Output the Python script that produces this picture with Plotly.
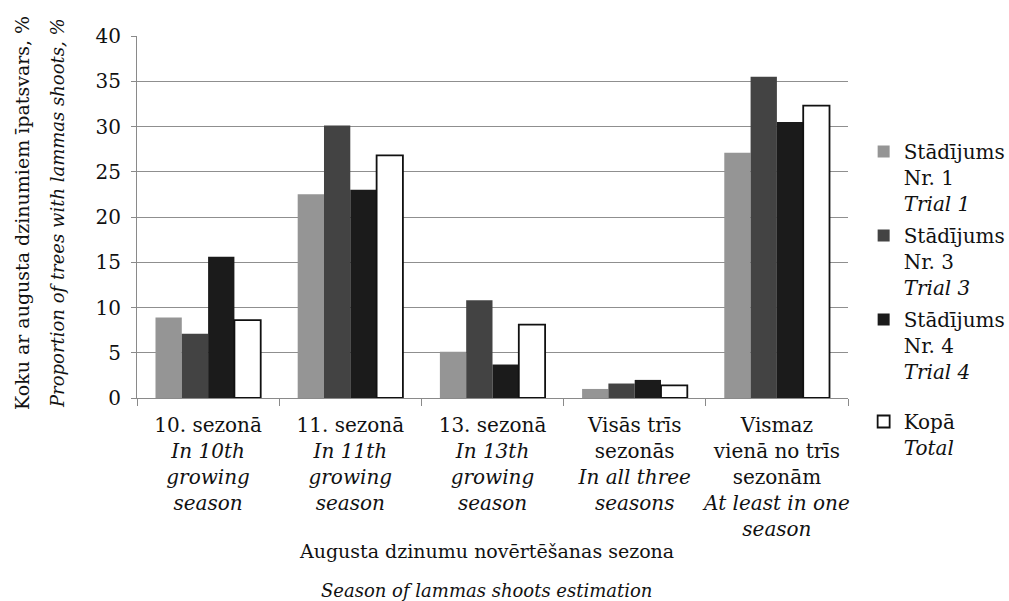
import plotly.graph_objects as go

categories = [
    "10. sezonā<br><i>In 10th</i><br><i>growing</i><br><i>season</i>",
    "11. sezonā<br><i>In 11th</i><br><i>growing</i><br><i>season</i>",
    "13. sezonā<br><i>In 13th</i><br><i>growing</i><br><i>season</i>",
    "Visās trīs<br>sezonās<br><i>In all three</i><br><i>seasons</i>",
    "Vismaz<br>vienā no trīs<br>sezonām<br><i>At least in one</i><br><i>season</i>",
]
series_names = [
    "Stādījums<br>Nr. 1<br><i>Trial 1</i>",
    "Stādījums<br>Nr. 3<br><i>Trial 3</i>",
    "Stādījums<br>Nr. 4<br><i>Trial 4</i>",
    "Kopā<br><i>Total</i>",
]
trial1 = [8.9, 22.5, 5.1, 1.0, 27.1]
trial3 = [7.1, 30.1, 10.8, 1.6, 35.5]
trial4 = [15.6, 23.0, 3.7, 2.0, 30.5]
total = [8.6, 26.8, 8.1, 1.4, 32.3]
y_ticks = [0, 5, 10, 15, 20, 25, 30, 35, 40]

FONT = "DejaVu Serif, Liberation Serif, serif"
FS = 20
TXT = "#111111"
values = [trial1, trial3, trial4, total]
colors = ["#959595", "#434343", "#1b1b1b", "#ffffff"]
line_w = [0, 0, 0, 1.8]
legends = ["legend", "legend", "legend", "legend2"]

fig = go.Figure()
for name, vals, c, lw, lg in zip(series_names, values, colors, line_w, legends):
    fig.add_trace(go.Bar(
        x=categories, y=vals, name=name,
        marker=dict(color=c, line=dict(color="#111111", width=lw)),
        legendgroup=name, legend=lg,
    ))

legend_common = dict(xanchor="left", yanchor="top", valign="top",
                     traceorder="grouped", tracegroupgap=3,
                     bgcolor="rgba(0,0,0,0)",
                     font=dict(family=FONT, size=FS, color=TXT))

fig.update_layout(
    width=1009, height=601,
    margin=dict(l=137, r=161, t=36, b=203, autoexpand=False),
    paper_bgcolor="white", plot_bgcolor="white",
    font=dict(family=FONT, size=FS, color=TXT),
    barmode="group", bargap=0.26, bargroupgap=0,
    showlegend=True,
    legend=dict(x=1.022, y=(398 - 132) / 362, **legend_common),
    legend2=dict(x=1.022, y=(398 - 402) / 362, **legend_common),
    xaxis=dict(showline=True, linecolor="#8a8a8a", linewidth=1,
               ticks="outside", tickson="boundaries", ticklen=7,
               tickcolor="#8a8a8a", showgrid=False, tickangle=0,
               automargin=False, ticklabelstandoff=9,
               tickfont=dict(family=FONT, size=FS)),
    yaxis=dict(range=[0, 40], tickvals=y_ticks, showline=True,
               linecolor="#8a8a8a", linewidth=1, ticks="outside",
               ticklen=5, tickcolor="#8a8a8a", showgrid=True,
               gridcolor="#8f8f8f", gridwidth=1, zeroline=False,
               automargin=False, ticklabelstandoff=6,
               tickfont=dict(family=FONT, size=FS)),
)

fig.add_annotation(text="Koku ar augusta dzinumiem īpatsvars, %",
                   xref="paper", yref="paper", x=(22 - 137) / 711, y=(398 - 213) / 362,
                   textangle=-90, showarrow=False, xanchor="center", yanchor="middle",
                   font=dict(family=FONT, size=19, color=TXT))
fig.add_annotation(text="<i>Proportion of trees with lammas shoots, %</i>",
                   xref="paper", yref="paper", x=(57 - 137) / 711, y=(398 - 213) / 362,
                   textangle=-90, showarrow=False, xanchor="center", yanchor="middle",
                   font=dict(family=FONT, size=18, color=TXT))
fig.add_annotation(text="Augusta dzinumu novērtēšanas sezona",
                   xref="paper", yref="paper", x=(486 - 137) / 711, y=(398 - 551) / 362,
                   showarrow=False, xanchor="center", yanchor="middle",
                   font=dict(family=FONT, size=19, color=TXT))
fig.add_annotation(text="<i>Season of lammas shoots estimation</i>",
                   xref="paper", yref="paper", x=(486 - 137) / 711, y=(398 - 590) / 362,
                   showarrow=False, xanchor="center", yanchor="middle",
                   font=dict(family=FONT, size=18, color=TXT))

fig.write_html("out.html", config={"displayModeBar": False},
               post_script="document.body.style.margin='0';")
